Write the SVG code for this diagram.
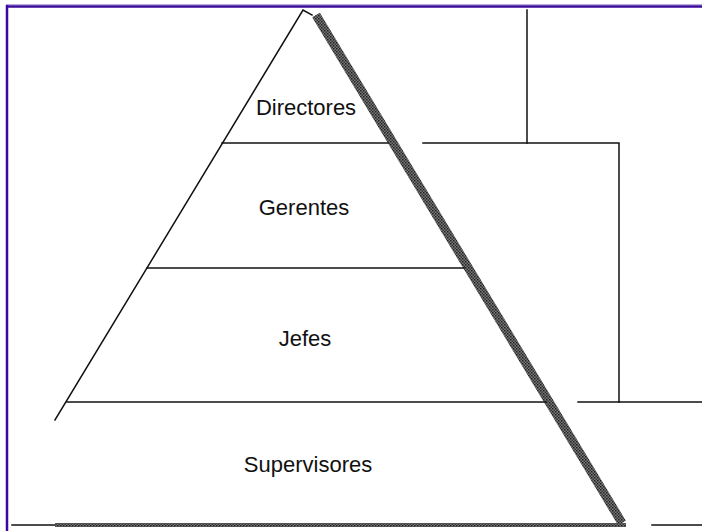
<svg xmlns="http://www.w3.org/2000/svg" width="702" height="531" viewBox="0 0 702 531">
  <defs>
    <pattern id="halftone" width="3" height="3" patternUnits="userSpaceOnUse">
      <rect width="3" height="3" fill="#7a7a7a"/>
      <rect width="1.5" height="1.5" fill="#1e1e1e"/>
      <rect x="1.5" y="1.5" width="1.5" height="1.5" fill="#333"/>
    </pattern>
    <style>
      .thin { stroke: #111; stroke-width: 1.5; fill: none; stroke-linecap: square; }
      .lvl { font-family: "Liberation Sans", Arial, sans-serif; font-size: 22px; fill: #111; text-anchor: middle; }
      .shade { stroke: url(#halftone); fill: none; stroke-linecap: butt; }
    </style>
  </defs>
  <rect width="702" height="531" fill="#ffffff"/>
  <!-- frame -->
  <line x1="6" y1="4.5" x2="702" y2="4.5" stroke="#b9a6dc" stroke-width="1"/>
  <line x1="6" y1="6.5" x2="702" y2="6.5" stroke="#3a0a9a" stroke-width="2.5"/>
  <line x1="7" y1="5" x2="7" y2="531" stroke="#3a0a9a" stroke-width="2.5"/>

  <!-- pyramid outline -->
  <g id="pyramid">
    <polyline class="thin" points="55,420 303,10 312,15"/>
    <line class="shade" x1="316" y1="15" x2="622" y2="523" stroke-width="9"/>
    <line class="thin" x1="12" y1="525" x2="60" y2="525"/>
    <line class="shade" x1="55" y1="525" x2="626" y2="525" stroke-width="4"/>
  </g>

  <g id="directores">
    <text class="lvl" x="306" y="115">Directores</text>
  </g>
  <g id="gerentes">
    <line class="thin" x1="222" y1="143" x2="388" y2="143"/>
    <text class="lvl" x="304" y="215">Gerentes</text>
  </g>
  <g id="jefes">
    <line class="thin" x1="147" y1="268" x2="464" y2="268"/>
    <text class="lvl" x="305" y="346">Jefes</text>
  </g>
  <g id="supervisores">
    <line class="thin" x1="67" y1="402" x2="546" y2="402"/>
    <text class="lvl" x="308" y="472">Supervisores</text>
  </g>

  <g id="connectors">
    <line class="thin" x1="527" y1="10" x2="527" y2="143"/>
    <polyline class="thin" points="423,143 619,143 619,402"/>
    <line class="thin" x1="578" y1="402" x2="702" y2="402"/>
    <line class="thin" x1="652" y1="525" x2="702" y2="525"/>
  </g>
</svg>
